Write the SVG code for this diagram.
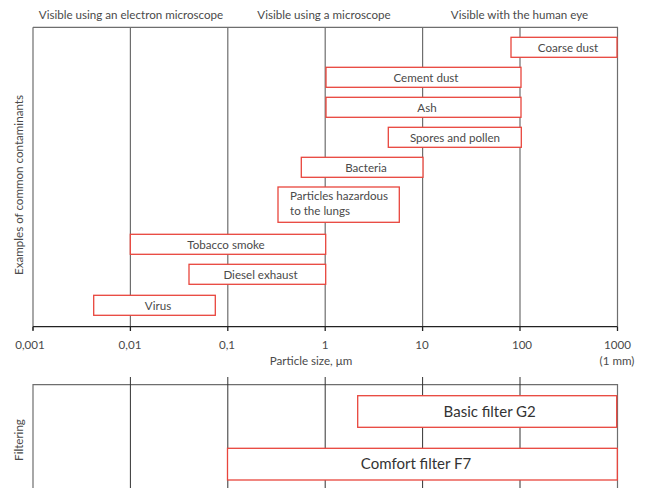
<svg xmlns="http://www.w3.org/2000/svg" width="645" height="488" viewBox="0 0 645 488">
<style>
text{font-family:Lato,"Open Sans","Liberation Sans",sans-serif;fill:#4a4a4a;font-size:11.6px}
.c{text-anchor:middle}
.grid{stroke:#6e6e6e;stroke-width:1.2;fill:none}
.grid2{stroke:#333;stroke-width:1;fill:none}
.box{fill:#fff;stroke:#e8453c;stroke-width:1.3}
.big{font-size:15px;fill:#333}
</style>
<rect width="645" height="488" fill="#fff"/>
<g id="header">
<text class="c" x="131" y="19">Visible using an electron microscope</text>
<text class="c" x="324" y="19">Visible using a microscope</text>
<text class="c" x="519.5" y="19">Visible with the human eye</text>
</g>
<g id="connectors">
<g id="chart-grid">
<path class="grid" d="M33,27.3H617.5V326.7M33,27.3V330M130.4,27.3V326.7M227.8,27.3V326.7M325.2,27.3V326.7M422.6,27.3V326.7M520,27.3V326.7"/>
<path stroke="#222" stroke-width="1.3" fill="none" d="M33,326.7H617.5M33,326.7V331M130.4,326.7V331M227.8,326.7V331M325.2,326.7V331M422.6,326.7V331M520,326.7V331M617.5,326.7V331"/>
</g>
<g id="filter-grid">
<path class="grid" d="M33,488V384.7H617.5V488"/>
<path class="grid2" d="M130.4,377V488M227.8,377V488M325.2,377V488M422.6,377V488M520,377V488"/>
</g>
</g>
<g id="axis-labels">
<text class="c" x="30" y="348.5">0,001</text>
<text class="c" x="130" y="348.5">0,01</text>
<text class="c" x="227" y="348.5">0,1</text>
<text class="c" x="325" y="348.5">1</text>
<text class="c" x="422" y="348.5">10</text>
<text class="c" x="522" y="348.5">100</text>
<text class="c" x="617.5" y="348.5">1000</text>
<text class="c" x="617" y="364.5">(1 mm)</text>
<text class="c" x="311" y="364.5">Particle size, μm</text>
<text class="c" transform="translate(23,185) rotate(-90)">Examples of common contaminants</text>
<text class="c" transform="translate(23,440) rotate(-90)">Filtering</text>
</g>
<g id="coarse-dust"><rect class="box" x="511" y="37.3" width="106" height="20"/><text class="c" x="568" y="51.5">Coarse dust</text></g>
<g id="cement-dust"><rect class="box" x="326" y="67.3" width="195" height="20"/><text class="c" x="426" y="81.5">Cement dust</text></g>
<g id="ash"><rect class="box" x="326" y="97.3" width="195" height="20"/><text class="c" x="427" y="111.5">Ash</text></g>
<g id="spores"><rect class="box" x="388.3" y="127.3" width="133" height="20"/><text class="c" x="455" y="141.5">Spores and pollen</text></g>
<g id="bacteria"><rect class="box" x="301.3" y="157.3" width="121.7" height="20"/><text class="c" x="366" y="171.5">Bacteria</text></g>
<g id="hazardous"><rect class="box" x="278" y="187" width="121.3" height="35.3"/><text x="290" y="200">Particles hazardous</text><text x="290" y="215.3">to the lungs</text></g>
<g id="tobacco"><rect class="box" x="130.3" y="234.3" width="195.4" height="20"/><text class="c" x="226" y="248.5">Tobacco smoke</text></g>
<g id="diesel"><rect class="box" x="189" y="264.3" width="136.7" height="20"/><text class="c" x="260.5" y="278.5">Diesel exhaust</text></g>
<g id="virus"><rect class="box" x="93.7" y="295.3" width="121.6" height="20"/><text class="c" x="158" y="309.5">Virus</text></g>
<g id="basic-filter"><rect class="box" x="357.7" y="395.7" width="259" height="31.6" stroke-width="1.6"/><text class="c big" x="489.7" y="417.3">Basic filter G2</text></g>
<g id="comfort-filter"><rect class="box" x="227.5" y="448.3" width="389.8" height="31.7" stroke-width="1.6"/><text class="c big" x="416" y="469">Comfort filter F7</text></g>
</svg>
